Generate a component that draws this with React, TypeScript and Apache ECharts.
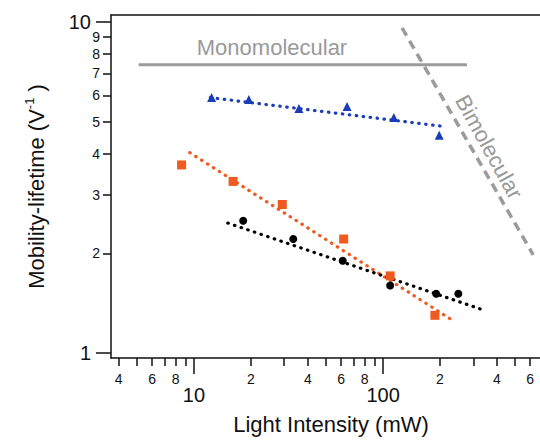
import React, { useEffect, useRef } from "react";
import * as echarts from "echarts";

// Measured data (log-log)
const blueX = [12.4, 19.5, 35.9, 64.5, 114, 198];
const blueY = [5.91, 5.83, 5.48, 5.56, 5.15, 4.55];
const orangeX = [8.6, 16.1, 29.3, 61.9, 109, 188];
const orangeY = [3.7, 3.3, 2.81, 2.21, 1.71, 1.3];
const blackX = [18.2, 33.5, 61.2, 109, 191, 250];
const blackY = [2.51, 2.21, 1.9, 1.6, 1.51, 1.51];

// Fit lines
const blueFitX = [12.2, 207];
const blueFitY = [5.91, 4.84];
const orangeFitX = [9.5, 226];
const orangeFitY = [4.03, 1.27];
const blackFitX = [15.1, 351];
const blackFitY = [2.47, 1.34];

// Guide lines
const monoX = [5.1, 278];
const monoY = [7.43, 7.43];
const bimoX = [126, 622];
const bimoY = [9.6, 1.98];

// Ticks
const xMajorTicks = [10, 100];
const xMinorTicks = [4, 5, 6, 7, 8, 9, 20, 30, 40, 50, 60, 70, 80, 90, 200, 300, 400, 500, 600];
const xMinorLabels = [4, 6, 8, 20, 40, 60, 80, 200, 400, 600];
const yMajorTicks = [1, 10];
const yMinorTicks = [2, 3, 4, 5, 6, 7, 8, 9];

const X_MIN = 3.64;
const X_MAX = 676;
const Y_MIN = 0.966;
const Y_MAX = 10.5;

const FONT = "'Liberation Sans', Arial, sans-serif";
const AX = "#111";

const zip = (xs: number[], ys: number[]) => xs.map((x, i) => [x, ys[i]]);

export default function App() {
  const ref = useRef<HTMLDivElement>(null);
  useEffect(() => {
    if (!ref.current) return;
    const chart = echarts.init(ref.current, undefined, { renderer: "svg" });
    const xCommon: any = {
      type: "log",
      logBase: 10,
      min: X_MIN,
      max: X_MAX,
      splitLine: { show: false },
      minorTick: { show: false },
    };
    const yCommon: any = {
      type: "log",
      logBase: 10,
      min: Y_MIN,
      max: Y_MAX,
      splitLine: { show: false },
      minorTick: { show: false },
    };
    const dotted = (color: string) => ({ color, width: 3.2, type: [0.5, 6.5] as any, cap: "round" as any });
    chart.setOption({
      animation: false,
      backgroundColor: "#fff",
      grid: { left: 111, top: 15, right: 0, bottom: 80, containLabel: false },
      xAxis: [
        {
          ...xCommon,
          position: "bottom",
          axisLine: { show: true, lineStyle: { color: AX, width: 1.5 } },
          axisTick: { show: true, customValues: xMajorTicks, length: 16, lineStyle: { color: AX, width: 1.5 } },
          axisLabel: {
            customValues: xMajorTicks,
            formatter: (v: number) => String(Math.round(v)),
            fontSize: 20,
            margin: 27,
            color: AX,
            fontFamily: FONT,
          },
          name: "Light Intensity (mW)",
          nameLocation: "middle",
          nameGap: 55,
          nameTextStyle: { fontSize: 22, color: AX, fontFamily: FONT, padding: [0, 0, 0, 11] },
        },
        {
          ...xCommon,
          position: "bottom",
          axisLine: { show: false },
          axisTick: { show: true, customValues: xMinorTicks, length: 8, lineStyle: { color: AX, width: 1.5 } },
          axisLabel: {
            customValues: xMinorLabels,
            formatter: (v: number) => String(Math.round(v)).charAt(0),
            fontSize: 14,
            margin: 14,
            color: AX,
            fontFamily: FONT,
          },
        },
        {
          ...xCommon,
          position: "top",
          axisLine: { show: true, lineStyle: { color: AX, width: 1.5 } },
          axisTick: { show: false },
          axisLabel: { show: false },
        },
      ],
      yAxis: [
        {
          ...yCommon,
          position: "left",
          axisLine: { show: true, lineStyle: { color: AX, width: 1.5 } },
          axisTick: { show: true, customValues: yMajorTicks, length: 15, lineStyle: { color: AX, width: 1.5 } },
          axisLabel: {
            customValues: yMajorTicks,
            formatter: (v: number) => String(Math.round(v)),
            fontSize: 20,
            margin: 20,
            color: AX,
            fontFamily: FONT,
          },
          name: "{a|Mobility-lifetime (V}{s|-1}{a| )}",
          nameLocation: "middle",
          nameGap: 62,
          nameTextStyle: {
            color: AX,
            fontFamily: FONT,
            rich: {
              a: { fontSize: 22, color: AX, fontFamily: FONT, lineHeight: 26 },
              s: { fontSize: 13, color: AX, fontFamily: FONT, verticalAlign: "top", lineHeight: 26 },
            },
          },
        },
        {
          ...yCommon,
          position: "left",
          axisLine: { show: false },
          axisTick: { show: true, customValues: yMinorTicks, length: 8, lineStyle: { color: AX, width: 1.5 } },
          axisLabel: {
            customValues: yMinorTicks,
            formatter: (v: number) => String(Math.round(v)),
            fontSize: 14,
            margin: 11,
            color: AX,
            fontFamily: FONT,
          },
        },
      ],
      series: [
        {
          type: "line",
          data: zip(monoX, monoY),
          symbol: "none",
          lineStyle: { color: "#9b9b9b", width: 3 },
          z: 1,
        },
        {
          type: "line",
          data: zip(bimoX, bimoY),
          symbol: "none",
          lineStyle: { color: "#9b9b9b", width: 3.5, type: [9, 6] as any },
          z: 1,
        },
        {
          type: "line",
          data: zip(blueFitX, blueFitY),
          symbol: "none",
          lineStyle: dotted("#1a3cb8"),
          z: 2,
        },
        {
          type: "line",
          data: zip(orangeFitX, orangeFitY),
          symbol: "none",
          lineStyle: dotted("#f05a1e"),
          z: 2,
        },
        {
          type: "line",
          data: zip(blackFitX, blackFitY),
          symbol: "none",
          lineStyle: dotted("#000"),
          z: 2,
        },
        {
          type: "scatter",
          data: zip(blueX, blueY),
          symbol: "triangle",
          symbolSize: 9,
          itemStyle: { color: "#1a3cb8", opacity: 1 },
          z: 3,
        },
        {
          type: "scatter",
          data: zip(orangeX, orangeY),
          symbol: "rect",
          symbolSize: 9,
          itemStyle: { color: "#f05a1e", opacity: 1 },
          z: 3,
        },
        {
          type: "scatter",
          data: zip(blackX, blackY),
          symbol: "circle",
          symbolSize: 8,
          itemStyle: { color: "#000", opacity: 1 },
          z: 3,
        },
      ],
      graphic: [
        {
          type: "text",
          x: 272,
          y: 47,
          style: {
            text: "Monomolecular",
            fontSize: 22,
            fontFamily: FONT,
            fill: "#999",
            align: "center",
            verticalAlign: "middle",
          },
        },
        {
          type: "text",
          x: 489,
          y: 147,
          rotation: (-61 * Math.PI) / 180,
          style: {
            text: "Bimolecular",
            fontSize: 22,
            fontFamily: FONT,
            fill: "#999",
            align: "center",
            verticalAlign: "middle",
          },
        },
      ],
    });
    return () => chart.dispose();
  }, []);
  return <div ref={ref} style={{ width: 540, height: 440, position: "absolute", left: 0, top: 0 }} />;
}
